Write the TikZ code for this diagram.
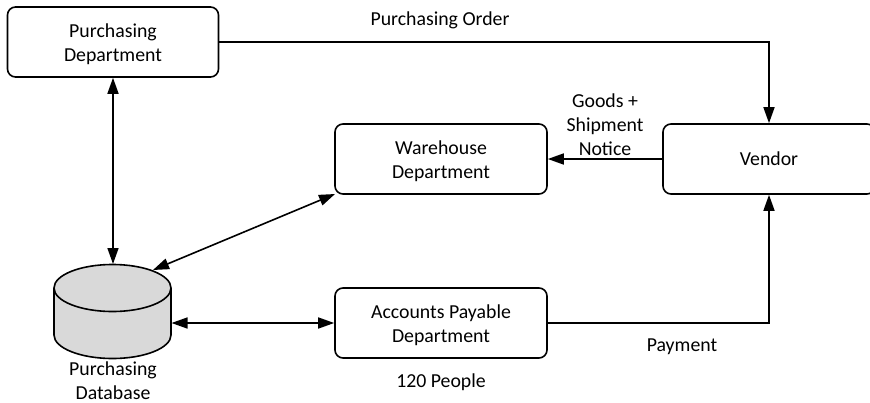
\documentclass[tikz,border=0pt]{standalone}
\usepackage{fontspec}
\setmainfont{Carlito}
\usetikzlibrary{arrows.meta,shapes.geometric}
\newcommand{\tallline}{\rule{0pt}{17.5pt}}
\tikzset{
 box/.style={draw,line width=1.6pt,rounded corners=8pt,align=center,font=\fontsize{19.8}{24}\selectfont,inner sep=0pt},
 lbl/.style={align=center,font=\fontsize{19.8}{24}\selectfont,inner sep=0pt},
 conn/.style={line width=1.6pt,-{Triangle[length=16pt,width=11pt]}},
 both/.style={line width=1.6pt,{Triangle[length=16pt,width=11pt]}-{Triangle[length=16pt,width=11pt]}}
}
\begin{document}
\begin{tikzpicture}[x=1pt,y=-1pt]
\useasboundingbox (0,0) rectangle (870,402);
\node[box,minimum width=211pt,minimum height=70pt] (pd) at (113,42) {\tallline Purchasing\\Department};
\node[box,minimum width=212pt,minimum height=70pt] (wh) at (441,159) {\tallline Warehouse\\Department};
\node[box,minimum width=212pt,minimum height=70pt] (ap) at (441,323) {\tallline Accounts Payable\\Department};
\node[box,minimum width=212pt,minimum height=70pt] (v) at (769,159) {Vendor};
\draw[line width=1.6pt,fill=black!15] (54,288) -- (54,335) arc[x radius=58.5,y radius=23.5,start angle=180,end angle=0] -- (171,288);
\draw[line width=1.6pt,fill=black!15] (112.5,288) ellipse[x radius=58.5,y radius=23.5];
\coordinate (dbt) at (113,264);
\coordinate (dbr) at (171.5,323);
\coordinate (dbw) at (153,270);
\coordinate (whc) at (335,194);
\node[lbl] (dbl) at (113,381) {Purchasing\\Database};
\node[lbl] (po) at (440,20) {Purchasing Order};
\node[lbl] (gs) at (605,125) {Goods +\\Shipment\\Notice};
\node[lbl] (pay) at (682,347) {Payment};
\node[lbl] (ppl) at (441,382) {120 People};
\draw[conn] (pd.east) -| (v.north);
\draw[conn] (v.west) -- (wh.east);
\draw[conn] (ap.east) -| (v.south);
\draw[both] (pd.south) -- (dbt);
\draw[both] (dbw) -- (whc);
\draw[both] (dbr) -- (ap.west);
\end{tikzpicture}
\end{document}
